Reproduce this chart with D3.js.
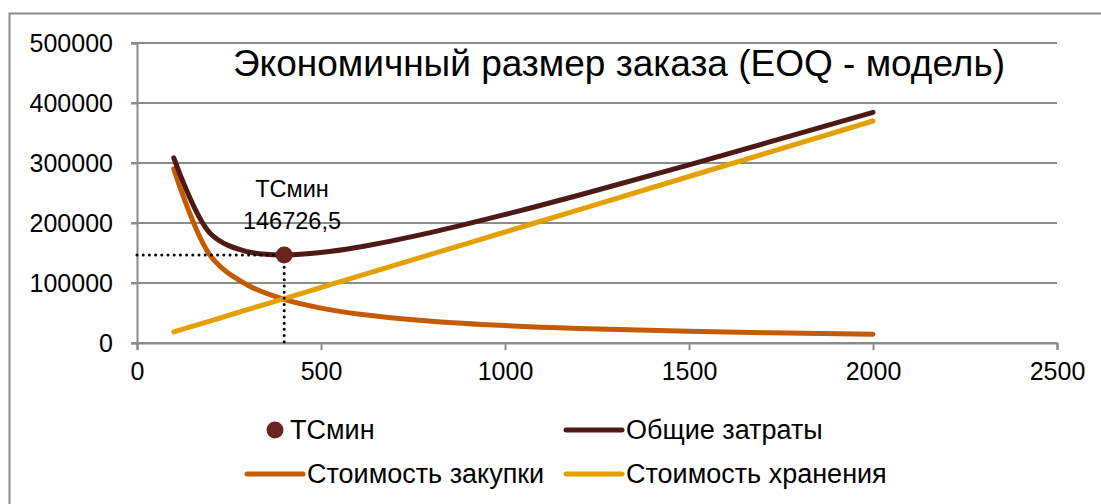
<!DOCTYPE html>
<html>
<head>
<meta charset="utf-8">
<script src="https://cdn.jsdelivr.net/npm/d3@7"></script>
<style>
  body { margin: 0; background: #fff; }
  svg { font-family: "Liberation Sans", Arial, sans-serif; }
</style>
</head>
<body>
<div id="chart"></div>
<script>
// order quantity Q
const qty = [100, 200, 300, 400, 500, 600, 800, 1000, 1200, 1500, 2000];
// values
const purchaseCost = [290000, 145000, 96700, 72700, 58200, 48500, 36400, 29100, 24200, 19400, 14500];
const holdingCost = [18500, 37000, 55500, 74000, 92500, 111000, 148000, 185000, 222000, 277500, 370000];
const totalCost = [308500, 182000, 152200, 146700, 150700, 159500, 184400, 214100, 246200, 296900, 384500];
const tcMin = { q: 400, value: 146726.5 };

const xTicks = [0, 500, 1000, 1500, 2000, 2500];
const yTicks = [0, 100000, 200000, 300000, 400000, 500000];

const colors = {
  total: '#4e1a16',
  purchase: '#c55a00',
  holding: '#e3a000',
  marker: '#6a2420'
};

const width = 1101, height = 504;
const plot = { left: 137, right: 1057, top: 43, bottom: 343 };

const svg = d3.select('#chart').append('svg')
  .attr('width', width)
  .attr('height', height);

// outer frame (only top and left are visible)
svg.append('path')
  .attr('d', `M9.5,${height} V13.5 H${width}`)
  .attr('fill', 'none')
  .attr('stroke', '#8c8c8c')
  .attr('stroke-width', 2);

const x = d3.scaleLinear().domain([0, 2500]).range([plot.left, plot.right]);
const y = d3.scaleLinear().domain([0, 500000]).range([plot.bottom, plot.top]);

// gridlines
svg.append('g')
  .selectAll('line')
  .data(yTicks)
  .enter().append('line')
  .attr('x1', plot.left - 6)
  .attr('x2', plot.right)
  .attr('y1', d => y(d))
  .attr('y2', d => y(d))
  .attr('stroke', '#8c8c8c')
  .attr('stroke-width', 2);

// y axis
const yAxis = svg.append('g')
  .attr('transform', `translate(${plot.left},0)`)
  .call(d3.axisLeft(y).tickValues(yTicks).tickFormat(d3.format('d')).tickSize(6).tickPadding(18));

// x axis
const xAxis = svg.append('g')
  .attr('transform', `translate(0,${plot.bottom})`)
  .call(d3.axisBottom(x).tickValues(xTicks).tickFormat(d3.format('d')).tickSize(7).tickPadding(12));

[yAxis, xAxis].forEach(ax => {
  ax.select('.domain').attr('stroke', '#8c8c8c').attr('stroke-width', 2);
  ax.selectAll('.tick line').attr('stroke', '#8c8c8c').attr('stroke-width', 2);
  ax.selectAll('.tick text')
    .attr('fill', '#000')
    .style('font-size', '25px')
    .style('font-family', '"Liberation Sans", Arial, sans-serif');
});

// title
svg.append('text')
  .attr('x', 619)
  .attr('y', 76)
  .attr('text-anchor', 'middle')
  .style('font-size', '37px')
  .text('Экономичный размер заказа (EOQ - модель)');

const line = d3.line()
  .x(d => x(d[0]))
  .y(d => y(d[1]))
  .curve(d3.curveCatmullRom.alpha(0.5));

const series = [
  { name: 'Стоимость закупки', values: purchaseCost, color: colors.purchase },
  { name: 'Стоимость хранения', values: holdingCost, color: colors.holding },
  { name: 'Общие затраты', values: totalCost, color: colors.total }
];

svg.append('g')
  .selectAll('path')
  .data(series)
  .enter().append('path')
  .attr('d', s => line(qty.map((q, i) => [q, s.values[i]])))
  .attr('fill', 'none')
  .attr('stroke', s => s.color)
  .attr('stroke-width', 5)
  .attr('stroke-linecap', 'round');

// dotted drop lines to the minimum
const guides = svg.append('g')
  .attr('stroke', '#000')
  .attr('stroke-width', 3)
  .attr('stroke-linecap', 'round')
  .attr('stroke-dasharray', '0 6.2');
guides.append('line')
  .attr('x1', x(0)).attr('x2', x(tcMin.q))
  .attr('y1', y(tcMin.value)).attr('y2', y(tcMin.value));
guides.append('line')
  .attr('x1', x(tcMin.q)).attr('x2', x(tcMin.q))
  .attr('y1', y(tcMin.value)).attr('y2', y(0));

svg.append('circle')
  .attr('cx', x(tcMin.q))
  .attr('cy', y(tcMin.value))
  .attr('r', 8.5)
  .attr('fill', colors.marker);

const label = svg.append('text')
  .attr('text-anchor', 'middle')
  .style('font-size', '23.5px');
label.append('tspan').attr('x', 292).attr('y', 197).text('ТСмин');
label.append('tspan').attr('x', 292).attr('y', 229).text(d3.format('.1f')(tcMin.value).replace('.', ','));

// legend
const legend = svg.append('g').style('font-size', '27px');
const legendItems = [
  { name: 'ТСмин', type: 'dot', color: colors.marker, x: 247, y: 430 },
  { name: 'Общие затраты', type: 'line', color: colors.total, x: 566, y: 430 },
  { name: 'Стоимость закупки', type: 'line', color: colors.purchase, x: 247, y: 474 },
  { name: 'Стоимость хранения', type: 'line', color: colors.holding, x: 566, y: 474 }
];
legendItems.forEach(d => {
  if (d.type === 'dot') {
    legend.append('circle').attr('cx', d.x + 28).attr('cy', d.y).attr('r', 8.5).attr('fill', d.color);
  } else {
    legend.append('line')
      .attr('x1', d.x).attr('x2', d.x + 56)
      .attr('y1', d.y).attr('y2', d.y)
      .attr('stroke', d.color).attr('stroke-width', 5).attr('stroke-linecap', 'round');
  }
  legend.append('text')
    .attr('x', d.type === 'dot' ? d.x + 43 : d.x + 60)
    .attr('y', d.y + 9)
    .text(d.name);
});
</script>
</body>
</html>
